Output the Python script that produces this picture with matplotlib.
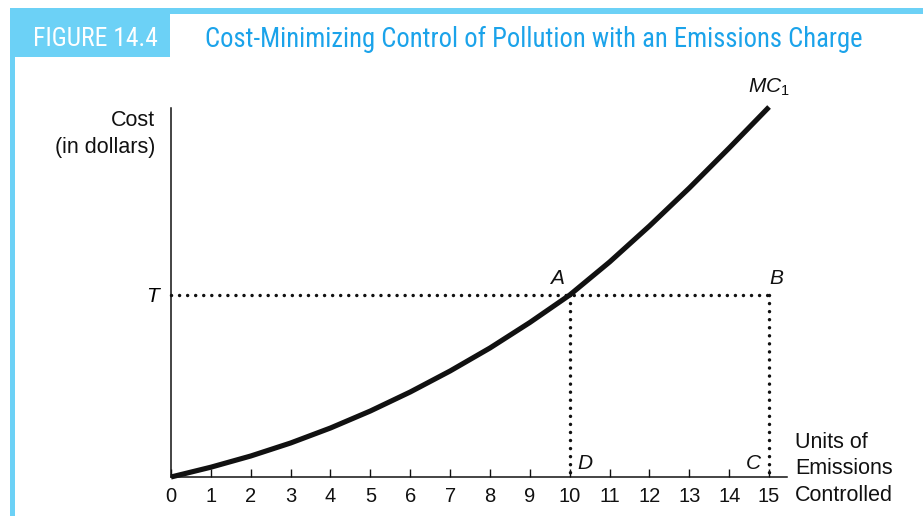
import matplotlib
matplotlib.use('Agg')
import matplotlib.pyplot as plt
from matplotlib.patches import Rectangle

# marginal cost of controlling emissions (MC1), dollars per unit
units = [0, 1, 2, 3, 4, 5, 6, 7, 8, 9, 10, 11, 12, 13, 14, 15]
mc1 = [0, 0.98, 2.1, 3.4, 4.9, 6.6, 8.5, 10.6, 12.9, 15.45, 18.2, 21.5, 25.1, 28.9, 32.9, 37.0]

q_a = 10             # units controlled where MC1 meets the charge
q_max = 15           # total emissions
charge = mc1[units.index(q_a)]   # emissions charge T
x_ticks = list(range(0, 16))

light_blue = '#6CD1F6'
title_blue = '#1BA3EA'
head_font = ['Roboto Condensed', 'Liberation Sans Narrow', 'Roboto', 'DejaVu Sans']
sans = ['Liberation Sans', 'DejaVu Sans']

plt.rcParams['mathtext.fontset'] = 'custom'
plt.rcParams['mathtext.it'] = 'Liberation Sans:italic'
plt.rcParams['mathtext.rm'] = 'Liberation Sans'

W, H = 923, 516
fig = plt.figure(figsize=(W / 100, H / 100), dpi=100)


def fx(px):
    return px / W


def fy(py):
    return 1 - py / H


def fit_width(txt, width_px):
    bb = txt.get_window_extent(fig.canvas.get_renderer())
    txt.set_fontsize(txt.get_fontsize() * width_px / bb.width)


# header band and side bar
fig.patches.append(Rectangle((fx(10), fy(14)), 1, fy(8) - fy(14), transform=fig.transFigure,
                             color=light_blue, lw=0))
fig.patches.append(Rectangle((fx(10), fy(57)), fx(170) - fx(10), fy(14) - fy(57),
                             transform=fig.transFigure, color=light_blue, lw=0))
fig.patches.append(Rectangle((fx(10), 0), fx(15) - fx(10), fy(14), transform=fig.transFigure,
                             color=light_blue, lw=0))
fig_lbl = fig.text(fx(33), fy(39), 'FIGURE 14.4', color='white', fontsize=18, family=head_font,
                   ha='left', va='center')
title = fig.text(fx(205), fy(39), 'Cost-Minimizing Control of Pollution with an Emissions Charge',
                 color=title_blue, fontsize=18, family=head_font, ha='left', va='center')
fit_width(fig_lbl, 125)
fit_width(title, 658)

ax = fig.add_axes([fx(171), fy(477), fx(787) - fx(171), fy(108) - fy(477)])
ax.set_xlim(0, 15.45)
ax.set_ylim(0, 36.9)

ax.plot(units, mc1, color='#111111', lw=3.7, solid_capstyle='butt', solid_joinstyle='round',
        clip_on=False, zorder=3)

dots = dict(color='#111111', lw=2.5, linestyle=(0, (0.01, 2.31)), dash_capstyle='round',
            clip_on=False)
ax.plot([0, q_max], [charge, charge], **dots)
ax.plot([q_a, q_a], [charge, 0], **dots)
ax.plot([q_max, q_max], [charge, 0], **dots)

for s in ['top', 'right']:
    ax.spines[s].set_visible(False)
for s in ['left', 'bottom']:
    ax.spines[s].set_linewidth(1.1)
    ax.spines[s].set_color('#111111')

ax.set_xticks(x_ticks)
ax.set_xticklabels([str(v) for v in x_ticks], family=sans, fontsize=14.5)
ax.tick_params(axis='x', direction='in', length=6, width=1, pad=7, colors='#111111')
ax.set_yticks([charge])
ax.set_yticklabels(['T'], fontstyle='italic', family=sans, fontsize=15)
ax.tick_params(axis='y', length=0, pad=9)

lab = dict(family=sans, fontsize=15.5, color='#111111', linespacing=1.32)
fig.text(fx(155), fy(134), 'Cost\n(in dollars)', ha='right', va='center', multialignment='right',
         **lab)
fig.text(fx(795), fy(469), 'Units of\nEmissions\nControlled', ha='left', va='center',
         multialignment='left', **lab)

pts = dict(family=sans, fontsize=15, fontstyle='italic', color='#111111')
ax.text(q_a - 0.15, charge + 0.7, 'A', ha='right', va='bottom', **pts)
ax.text(q_max, charge + 0.7, 'B', ha='left', va='bottom', **pts)
ax.text(q_a + 0.2, 0.4, 'D', ha='left', va='bottom', **pts)
ax.text(q_max - 0.2, 0.4, 'C', ha='right', va='bottom', **pts)
ax.text(q_max, 37.9, r'$MC_1$', ha='center', va='bottom', fontsize=15, color='#111111',
        clip_on=False)

fig.savefig('out.png', dpi=100)
